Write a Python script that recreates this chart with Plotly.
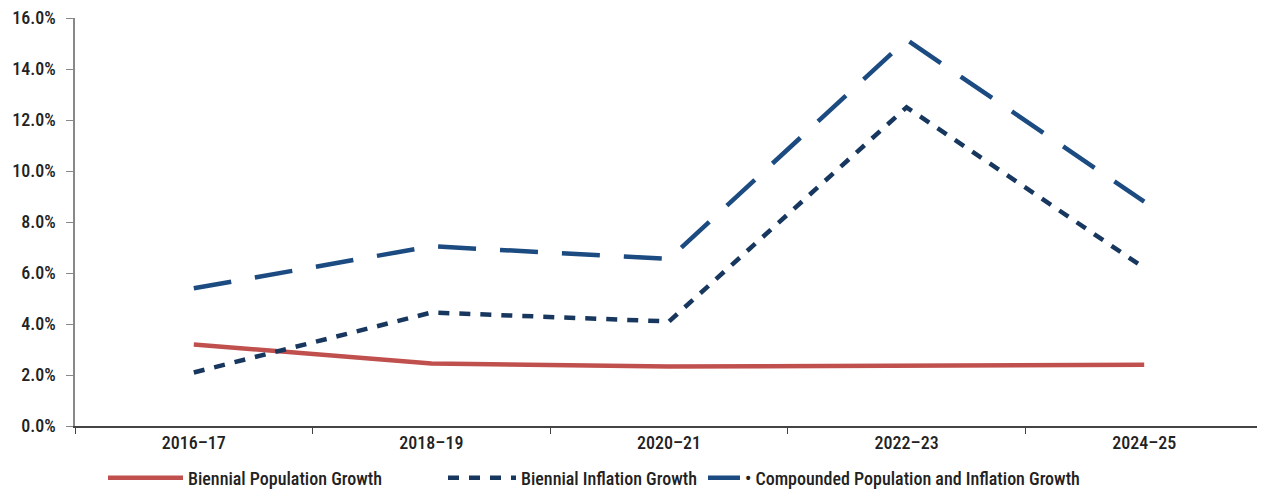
import plotly.graph_objects as go

categories = ["2016\u201317", "2018\u201319", "2020\u201321", "2022\u201323", "2024\u201325"]
population = [3.2, 2.45, 2.33, 2.35, 2.4]
inflation = [2.1, 4.45, 4.1, 12.5, 6.2]
compounded = [5.4, 7.05, 6.55, 15.15, 8.8]
y_ticks = [0, 2, 4, 6, 8, 10, 12, 14, 16]
y_labels = [f"{v:.1f}%" for v in y_ticks]

FONT = "Roboto Condensed, Liberation Sans, sans-serif"
TXT = "#222222"
WEIGHT = 500

# page pixel coordinates of the plot area (the page body has an 8px margin)
OFF = 8
PL, PR, PT, PB = 75, 1263, 18, 426
PAGE_W, PAGE_H = 1265, 491
W, H = PAGE_W - OFF, PAGE_H - OFF


def px_x(p):
    return (p - PL) / (PR - PL)


def px_y(p):
    return (PB - p) / (PB - PT)


RED, NAVY, BLUE = "#C0504D", "#17375E", "#1B4B80"

fig = go.Figure()
fig.add_trace(go.Scatter(x=categories, y=population, mode="lines",
                         name="Biennial Population Growth", legend="legend",
                         line=dict(color=RED, width=4.5)))
fig.add_trace(go.Scatter(x=categories, y=inflation, mode="lines",
                         name="Biennial Inflation Growth", legend="legend2",
                         line=dict(color=NAVY, width=4.5, dash="11px,10px")))
fig.add_trace(go.Scatter(x=categories, y=compounded, mode="lines",
                         name="Compounded Population and Inflation Growth",
                         showlegend=False,
                         line=dict(color=BLUE, width=4.5, dash="38px,24px")))
# legend entry for the compounded series (solid short segment as in the reference)
fig.add_trace(go.Scatter(x=[None], y=[None], mode="lines",
                         name="\u2022 Compounded Population and Inflation Growth",
                         legend="legend3", hoverinfo="skip",
                         line=dict(color=BLUE, width=4.5)))

leg_common = dict(orientation="h", yanchor="middle", y=px_y(478),
                  bgcolor="rgba(0,0,0,0)",
                  font=dict(family=FONT, size=18, color=TXT, weight=WEIGHT))

tick_font = dict(family=FONT, size=18, color=TXT, weight=WEIGHT)

fig.update_layout(
    width=W, height=H,
    margin=dict(l=PL - OFF, r=PAGE_W - PR, t=PT - OFF, b=PAGE_H - PB,
                autoexpand=False),
    paper_bgcolor="white", plot_bgcolor="white",
    font=dict(family=FONT, size=18, color=TXT),
    showlegend=True,
    legend=dict(**leg_common, x=px_x(103), xanchor="left", itemwidth=75),
    legend2=dict(**leg_common, x=px_x(443), xanchor="left", itemwidth=68),
    legend3=dict(**leg_common, x=px_x(703), xanchor="left", itemwidth=32),
    xaxis=dict(type="category", range=[-0.5, 4.5], showline=True,
               linecolor="#444444", linewidth=1.5, ticks="outside",
               tickson="boundaries", ticklen=6, tickcolor="#444444",
               showgrid=False, zeroline=False, automargin=False,
               tickfont=tick_font),
    yaxis=dict(range=[0, 16.001], tickvals=y_ticks, ticktext=y_labels,
               showline=True, linecolor="#888888", linewidth=1.5,
               ticks="outside", ticklen=7, tickcolor="#888888",
               ticklabelstandoff=7, ticklabeloverflow="allow",
               showgrid=False, zeroline=False, automargin=False,
               tickfont=tick_font),
)

fig.write_html("out.html")
